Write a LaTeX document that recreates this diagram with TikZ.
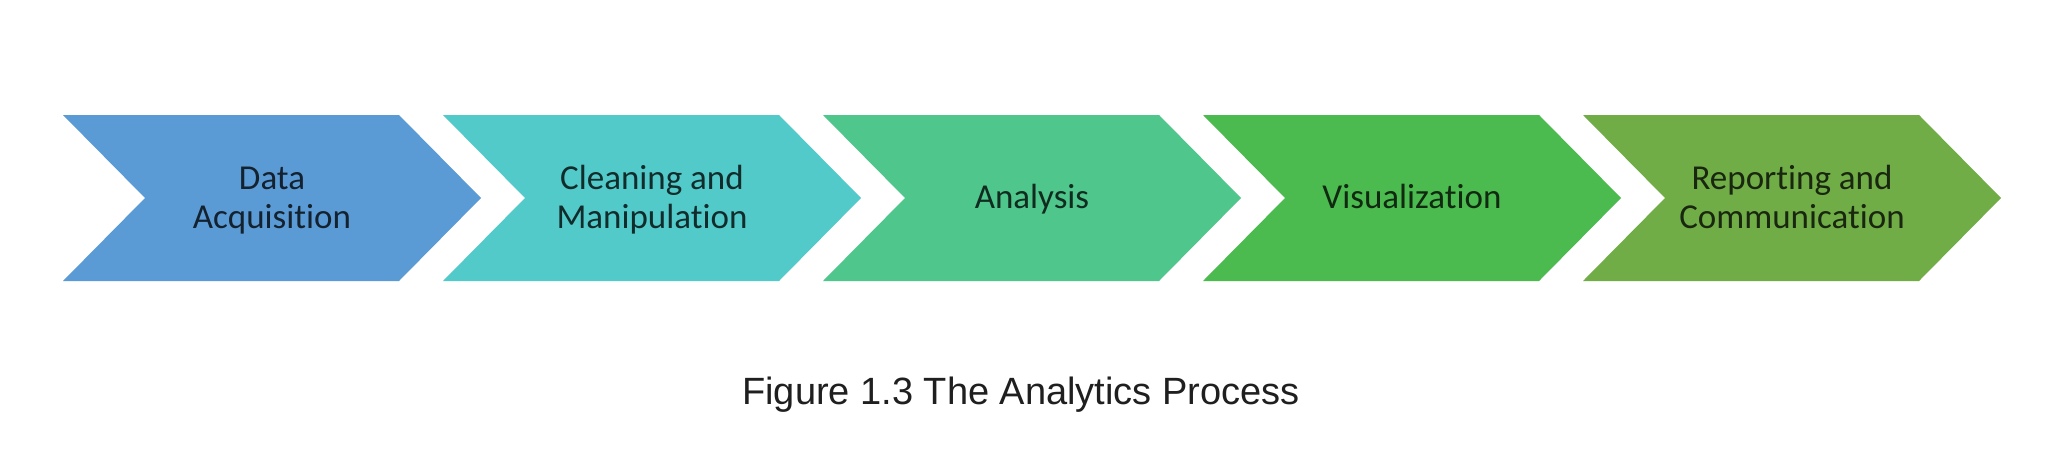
\documentclass[tikz,border=0pt]{standalone}
\usepackage{fontspec}
\setmainfont[Ligatures={NoCommon}]{Carlito}
\newfontfamily\capfont{Liberation Sans}
\definecolor{cA}{HTML}{5B9BD5}
\definecolor{cB}{HTML}{53CACA}
\definecolor{cC}{HTML}{4FC68B}
\definecolor{cD}{HTML}{4BBA4F}
\definecolor{cE}{HTML}{70AD47}
\newcommand\chevshape[2]{\fill[#2] (#1,115) -- ++(336,0) -- ++(82,83) -- ++(-82,83) -- ++(-336,0) -- ++(82,-83) -- cycle;}
\begin{document}
\begin{tikzpicture}[x=1pt,y=-1pt,
  lbl/.style={align=center,inner sep=0pt,font=\fontsize{35}{39}\selectfont},
  caption/.style={inner sep=0pt,anchor=base,font=\capfont\fontsize{38}{44}\selectfont,text=black!88}]
\useasboundingbox (0,0) rectangle (2048,471);
\fill[white] (0,0) rectangle (2048,471);
\chevshape{63}{cA}
\chevshape{443}{cB}
\chevshape{823}{cC}
\chevshape{1203}{cD}
\chevshape{1583}{cE}
\node[lbl,text=cA!22!black] (t1) at (272,201) {\strut Data\\\strut Acquisition};
\node[lbl,text=cB!22!black] (t2) at (652,201) {\strut Cleaning and\\\strut Manipulation};
\node[lbl,text=cC!22!black] (t3) at (1032,201) {\strut Analysis};
\node[lbl,text=cD!22!black] (t4) at (1412,201) {\strut Visualization};
\node[lbl,text=cE!22!black] (t5) at (1792,201) {\strut Reporting and\\\strut Communication};
\node[caption] (cap) at (1021,404) {Figure 1.3 The Analytics Process};
\end{tikzpicture}
\end{document}
